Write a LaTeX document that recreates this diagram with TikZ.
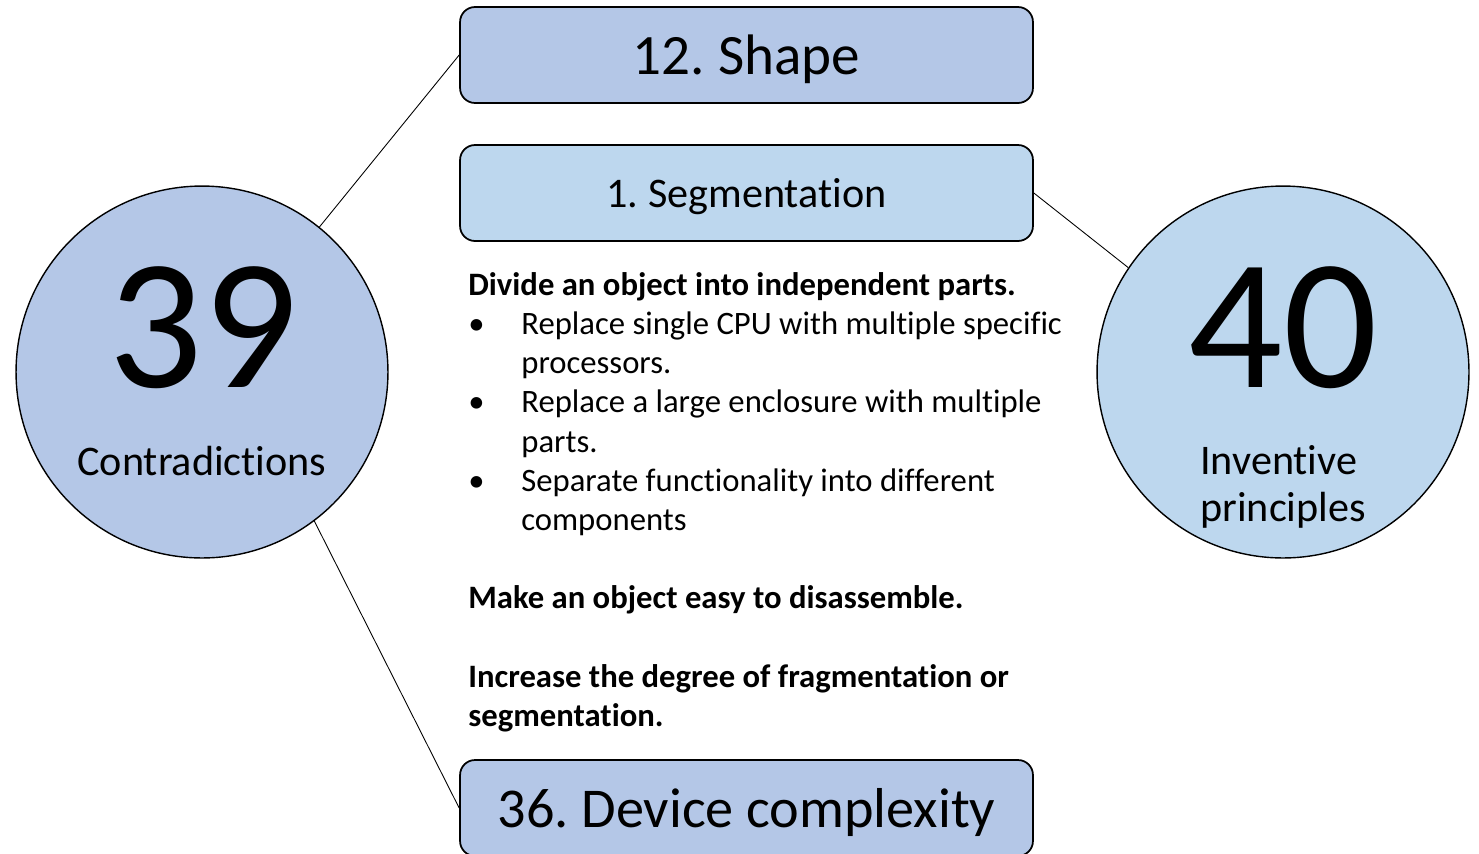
\documentclass[tikz,border=0pt]{standalone}
\usepackage{fontspec}
\setmainfont{Carlito}[RawFeature = {-liga;-clig;-dlig;-calt}]
\usetikzlibrary{positioning}
\definecolor{darkblue}{HTML}{B4C7E7}
\definecolor{lightblue}{HTML}{BDD7EE}
\newcommand{\fs}[2]{\fontsize{#1}{#2}\selectfont}
\newcommand{\bul}{\makebox[1.06cm][l]{\textbullet}}
\frenchspacing

\begin{document}
\begin{tikzpicture}[x = .02cm, y = -.02cm]
\tikzset{
  bigcircle/.style = {circle, draw, line width = .8pt, minimum size = 7.44cm, inner sep = 0pt},
  titlebox/.style = {rectangle, rounded corners = .3cm, draw, line width = 1pt, minimum width = 11.46cm, minimum height = 1.92cm, inner sep = 0pt, text depth = 0pt},
  link/.style = {line width = .5pt}
}
\useasboundingbox (0,0) rectangle (1479,853);
\node[bigcircle, fill = darkblue] (c39) at (202,372) {};
\node[bigcircle, fill = lightblue] (c40) at (1283,372) {};
\node[anchor = base, font = \fs{106}{106}] (n39) at (203,387) {39};
\node[anchor = base, font = \fs{24}{27}] (contra) at (202,475) {Contradictions};
\node[anchor = base, font = \fs{106}{106}] (n40) at (1283,387) {40};
\node[anchor = north west, align = left, inner sep = 0pt, font = \fs{24}{27}] (inv) at (1200,445) {Inventive\\principles};

\node[titlebox, fill = darkblue, font = \fs{32.5}{40}] (shape) at (746.5,55) {12. Shape};
\node[titlebox, fill = lightblue, font = \fs{24}{28}] (seg) at (746.5,193) {1. Segmentation};
\node[titlebox, fill = darkblue, font = \fs{32}{40}] (device) at (746.5,808) {36. Device complexity};

\node[anchor = north west, align = left, inner sep = 0pt, font = \fs{18.6}{22.3}] (body) at (468,272) {%
\textbf{Divide an object into independent parts.}\\
\bul Replace single CPU with multiple specific\\
\hspace{1.06cm}processors.\\
\bul Replace a large enclosure with multiple\\
\hspace{1.06cm}parts.\\
\bul Separate functionality into different\\
\hspace{1.06cm}components\\
\mbox{}\\
\textbf{Make an object easy to disassemble.}\\
\mbox{}\\
\textbf{Increase the degree of fragmentation or}\\
\textbf{segmentation.}};

\draw[link] (c39.51) -- (shape.west);
\draw[link] (c39.-53.5) -- (device.west);
\draw[link] (seg.east) -- (c40.146);
\end{tikzpicture}
\end{document}
